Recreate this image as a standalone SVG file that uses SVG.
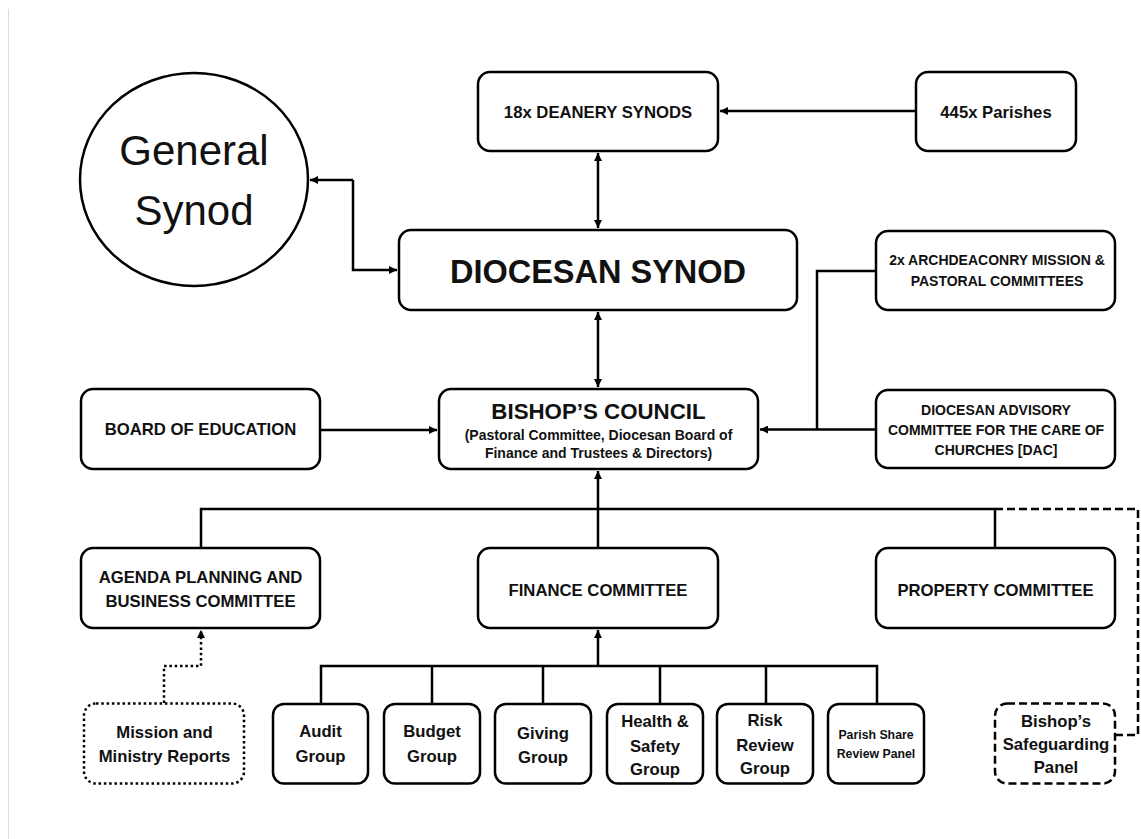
<svg xmlns="http://www.w3.org/2000/svg" width="1141" height="839" viewBox="0 0 1141 839">
<style>
  .bx{fill:#fff;stroke:#000;stroke-width:2.5}
  .dot{fill:#fff;stroke:#000;stroke-width:2.5;stroke-dasharray:2.5 2.8}
  .dsh{fill:#fff;stroke:#000;stroke-width:2.5;stroke-dasharray:8 4}
  .ln{fill:none;stroke:#000;stroke-width:2.5}
  .lndot{fill:none;stroke:#000;stroke-width:2.5;stroke-dasharray:2.5 2.8}
  .lndsh{fill:none;stroke:#000;stroke-width:2.5;stroke-dasharray:8 4}
  text{font-family:"Liberation Sans",Arial,sans-serif;fill:#111;text-anchor:middle;font-weight:bold}
  .t{font-size:16.7px}
  .s{font-size:14px}
  .xs{font-size:12.3px}
</style>
<defs>
  <marker id="ah" viewBox="0 0 10 10" refX="10" refY="5" markerWidth="9" markerHeight="8" markerUnits="userSpaceOnUse" orient="auto-start-reverse">
    <path d="M0,0 L10,5 L0,10 z" fill="#000"/>
  </marker>
</defs>
<rect width="1141" height="839" fill="#fff"/>
<line x1="8.5" y1="9" x2="8.5" y2="839" stroke="#dcdcdc" stroke-width="1"/>

<g id="connectors">
  <path class="ln" d="M353,180 L310,180" marker-end="url(#ah)"/>
  <path class="ln" d="M353,180 L353,270 L397,270" marker-end="url(#ah)"/>
  <path class="ln" d="M916,111 L720,111" marker-end="url(#ah)"/>
  <path class="ln" d="M598,153 L598,228" marker-start="url(#ah)" marker-end="url(#ah)"/>
  <path class="ln" d="M598,312 L598,387" marker-start="url(#ah)" marker-end="url(#ah)"/>
  <path class="ln" d="M320,430 L437,430" marker-end="url(#ah)"/>
  <path class="ln" d="M876,271 L817,271 L817,429.5"/>
  <path class="ln" d="M876,429.5 L760,429.5" marker-end="url(#ah)"/>
  <path class="ln" d="M201,548 L201,509 L995,509 L995,548"/>
  <path class="ln" d="M598,548 L598,471" marker-end="url(#ah)"/>
  <path class="lndsh" d="M995,509 L1138,509 L1138,735 L1115,735"/>
  <path class="ln" d="M598,666 L598,630" marker-end="url(#ah)"/>
  <path class="ln" d="M321,704 L321,666 L877,666 L877,704"/>
  <path class="ln" d="M432,666 L432,704 M543,666 L543,704 M660,666 L660,704 M766,666 L766,704"/>
  <path class="lndot" d="M164,703 L164,666 L201,666 L201,630" marker-end="url(#ah)"/>
</g>

<g id="general-synod">
  <ellipse class="bx" cx="194" cy="179.5" rx="114" ry="106.5"/>
  <text x="194" y="165" style="font-size:42px;font-weight:normal">General</text>
  <text x="194" y="225" style="font-size:42px;font-weight:normal">Synod</text>
</g>
<g id="deanery-synods">
  <rect class="bx" x="478" y="72" width="240" height="79" rx="12"/>
  <text class="t" x="598" y="117.5">18x DEANERY SYNODS</text>
</g>
<g id="parishes">
  <rect class="bx" x="916" y="72" width="160" height="79" rx="12"/>
  <text class="t" x="996" y="117.5">445x Parishes</text>
</g>
<g id="diocesan-synod">
  <rect class="bx" x="399" y="230" width="398" height="80" rx="12"/>
  <text x="598" y="283" style="font-size:32.5px">DIOCESAN SYNOD</text>
</g>
<g id="archdeaconry">
  <rect class="bx" x="876" y="231" width="239" height="79" rx="12"/>
  <text class="s" x="997" y="265">2x ARCHDEACONRY MISSION &amp;</text>
  <text class="s" x="997" y="286">PASTORAL COMMITTEES</text>
</g>
<g id="board-of-education">
  <rect class="bx" x="81" y="389" width="239" height="80" rx="12"/>
  <text class="t" x="200.5" y="435">BOARD OF EDUCATION</text>
</g>
<g id="bishops-council">
  <rect class="bx" x="439" y="389" width="319" height="80" rx="12"/>
  <text x="598.5" y="419" style="font-size:22.3px">BISHOP’S COUNCIL</text>
  <text class="s" x="598.5" y="440">(Pastoral Committee, Diocesan Board of</text>
  <text class="s" x="598.5" y="458">Finance and Trustees &amp; Directors)</text>
</g>
<g id="dac">
  <rect class="bx" x="876" y="390" width="239" height="78" rx="12"/>
  <text class="s" x="996" y="415">DIOCESAN ADVISORY</text>
  <text class="s" x="996" y="435">COMMITTEE FOR THE CARE OF</text>
  <text class="s" x="996" y="455">CHURCHES [DAC]</text>
</g>
<g id="agenda">
  <rect class="bx" x="81" y="548" width="239" height="80" rx="12"/>
  <text class="t" x="200.5" y="583">AGENDA PLANNING AND</text>
  <text class="t" x="200.5" y="607">BUSINESS COMMITTEE</text>
</g>
<g id="finance">
  <rect class="bx" x="478" y="548" width="240" height="80" rx="12"/>
  <text class="t" x="598" y="596">FINANCE COMMITTEE</text>
</g>
<g id="property">
  <rect class="bx" x="876" y="548" width="239" height="80" rx="12"/>
  <text class="t" x="995.5" y="596">PROPERTY COMMITTEE</text>
</g>
<g id="mission-ministry">
  <rect class="dot" x="84" y="703.5" width="160" height="80" rx="12"/>
  <text class="t" x="164.5" y="737.5">Mission and</text>
  <text class="t" x="164.5" y="762">Ministry Reports</text>
</g>
<g id="audit">
  <rect class="bx" x="273" y="704" width="95" height="79.5" rx="11"/>
  <text class="t" x="320.5" y="737">Audit</text>
  <text class="t" x="320.5" y="762">Group</text>
</g>
<g id="budget">
  <rect class="bx" x="384" y="704" width="96" height="79.5" rx="11"/>
  <text class="t" x="432" y="737">Budget</text>
  <text class="t" x="432" y="762">Group</text>
</g>
<g id="giving">
  <rect class="bx" x="495" y="704" width="96" height="79.5" rx="11"/>
  <text class="t" x="543" y="739">Giving</text>
  <text class="t" x="543" y="763">Group</text>
</g>
<g id="health-safety">
  <rect class="bx" x="607" y="704" width="96" height="79.5" rx="11"/>
  <text class="t" x="655" y="727">Health &amp;</text>
  <text class="t" x="655" y="752">Safety</text>
  <text class="t" x="655" y="775">Group</text>
</g>
<g id="risk-review">
  <rect class="bx" x="717" y="704" width="96" height="79.5" rx="11"/>
  <text class="t" x="765" y="726">Risk</text>
  <text class="t" x="765" y="751">Review</text>
  <text class="t" x="765" y="774">Group</text>
</g>
<g id="parish-share">
  <rect class="bx" x="828" y="704" width="96" height="79.5" rx="11"/>
  <text class="xs" x="876" y="739">Parish Share</text>
  <text class="xs" x="876" y="757.5">Review Panel</text>
</g>
<g id="safeguarding">
  <rect class="dsh" x="995" y="703.5" width="120" height="80" rx="12"/>
  <text class="t" x="1056" y="727">Bishop’s</text>
  <text class="t" x="1056" y="750">Safeguarding</text>
  <text class="t" x="1056" y="773">Panel</text>
</g>
</svg>
